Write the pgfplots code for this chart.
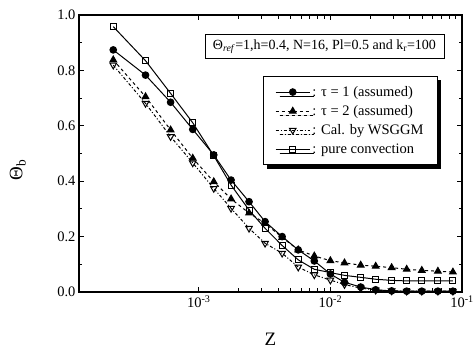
\documentclass[border=0pt]{standalone}
\usepackage{pgfplots}
\pgfplotsset{compat=1.18}
\usepackage{fontspec}
\setmainfont{Liberation Serif}
\usetikzlibrary{shadows}
\pgfplotstableread{
z sq ci tr it
2.24e-4 0.958 0.874 0.838 0.819
3.94e-4 0.835 0.783 0.705 0.681
6.11e-4 0.717 0.685 0.585 0.561
9.00e-4 0.611 0.587 0.483 0.466
1.30e-3 0.492 0.495 0.398 0.374
1.76e-3 0.386 0.404 0.336 0.302
2.41e-3 0.296 0.326 0.285 0.230
3.19e-3 0.230 0.254 0.248 0.176
4.30e-3 0.168 0.200 0.197 0.140
5.70e-3 0.116 0.152 0.152 0.090
7.55e-3 0.082 0.112 0.130 0.062
1.00e-2 0.070 0.065 0.113 0.043
1.28e-2 0.060 0.035 0.105 0.027
1.70e-2 0.053 0.018 0.097 0.014
2.21e-2 0.046 0.008 0.093 0.007
2.92e-2 0.042 0.004 0.088 0.004
3.80e-2 0.040 0.003 0.082 0.003
4.95e-2 0.040 0.003 0.078 0.003
6.56e-2 0.040 0.003 0.075 0.003
8.53e-2 0.040 0.003 0.072 0.003
}\datatab
\begin{document}
\begin{tikzpicture}
\begin{axis}[
  scale only axis, width=383pt, height=277pt,
  xmode=log, xmin=1.23e-4, xmax=0.1, ymin=0, ymax=1,
  xtick={1e-3,1e-2,1e-1},
  xticklabels={10\textsuperscript{-3},10\textsuperscript{-2},10\textsuperscript{-1}},
  ytick={0,0.2,0.4,0.6,0.8,1.0}, minor y tick num=1,
  yticklabel style={/pgf/number format/fixed,/pgf/number format/precision=1,/pgf/number format/fixed zerofill,/pgf/number format/assume math mode=true},
  tick label style={font=\fontsize{14.5}{16}\selectfont},
  axis line style={line width=1.2pt},
  tick style={black, line width=1pt},
  major tick length=5pt, minor tick length=3.5pt,
  xlabel={Z}, xlabel style={at={(axis description cs:0.5,-0.17)}, anchor=center, font=\fontsize{19}{21}\selectfont},
  ylabel={Θ\textsubscript{b}}, ylabel style={at={(axis description cs:-0.16,0.44)}, anchor=center, font=\fontsize{19}{21}\selectfont},
  legend image code/.code={\draw[mark repeat=2,mark phase=2] plot coordinates {(0cm,0cm) (0.6cm,0cm) (1.2cm,0cm)};},
  legend style={at={(rel axis cs:0.48,0.78)}, anchor=north west, draw=black, line width=0.7pt,
    font=\fontsize{14.5}{16}\selectfont, fill=white,
    drop shadow={shadow xshift=4pt, shadow yshift=-4pt, fill=black, opacity=1},
    inner xsep=12pt, inner ysep=8pt, row sep=3.5pt},
  legend cell align=left,
  clip=false,
]
\addplot[black, line width=1pt, mark=*, mark size=3.3pt, mark options={solid, fill=black}] table[x=z, y=ci] {\datatab};
\addlegendentry{: τ = 1 (assumed)}
\addplot[black, line width=1pt, dashed, mark=triangle*, mark size=3.8pt, mark options={solid, fill=black}] table[x=z, y=tr] {\datatab};
\addlegendentry{: τ = 2 (assumed)}
\addplot[black, line width=1pt, dash dot, mark=triangle, mark size=3.8pt, mark options={solid, fill=white, rotate=180}] table[x=z, y=it] {\datatab};
\addlegendentry{: Cal. by WSGGM}
\addplot[black, line width=1pt, mark=square, mark size=3pt, mark options={solid, fill=white}] table[x=z, y=sq] {\datatab};
\addlegendentry{: pure convection}
\node[draw, line width=0.7pt, inner xsep=8pt, inner ysep=5pt, font=\fontsize{14}{16}\selectfont] at (rel axis cs:0.641,0.886)
  {Θ\textsubscript{\textit{ref}}=1,h=0.4, N=16, Pl=0.5 and k\textsubscript{r}=100};
\end{axis}
\pgfresetboundingbox
\path ([xshift=-79pt,yshift=-59pt]current axis.south west) rectangle ([xshift=13pt,yshift=15pt]current axis.north east);
\end{tikzpicture}
\end{document}
